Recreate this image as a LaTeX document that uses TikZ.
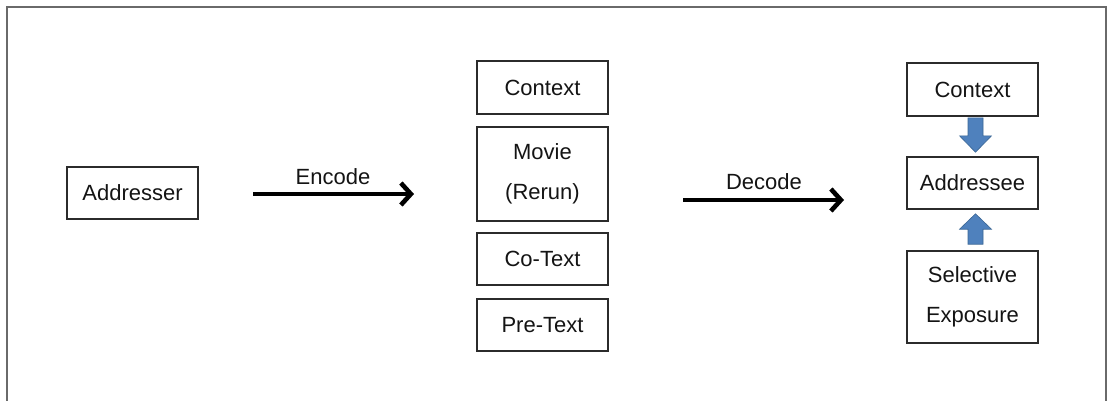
\documentclass[tikz,border=0pt]{standalone}
\usepackage{fontspec}
\setmainfont{Liberation Sans}
\usetikzlibrary{arrows.meta,calc}
\definecolor{boxline}{HTML}{2B2B2B}
\definecolor{frameline}{HTML}{6A6A6A}
\definecolor{bluefill}{HTML}{4F81BD}
\definecolor{blueline}{HTML}{3A6694}
\begin{document}
\begin{tikzpicture}[x=1pt,y=-1pt,
  txt/.style={font=\fontsize{22}{40}\selectfont, text=black!92, inner sep=0pt},
  box/.style={txt, draw=boxline, line width=1.6pt, minimum width=131pt, align=center},
  flow/.style={line width=4.6pt, -{Straight Barb[length=10pt,width=22pt]}, black},
  fat/.style={fill=bluefill, draw=blueline, line width=0.6pt, line join=miter}
]
\useasboundingbox (0,0) rectangle (1112,400);
\clip (0,0) rectangle (1112,400);
\fill[white] (0,0) rectangle (1112,400);
\draw[frameline, line width=1.8pt] (7,7) rectangle (1106,420);

% left
\node[box, minimum height=52pt] (addresser) at (132.5,193) {Addresser};

% middle column
\node[box, minimum height=53pt] (ctx1) at (542.5,87.5) {Context};
\node[box, minimum height=94pt] (movie) at (542.5,174) {Movie\\(Rerun)};
\node[box, minimum height=52pt] (cotext) at (542.5,259) {Co-Text};
\node[box, minimum height=52pt] (pretext) at (542.5,325) {Pre-Text};

% right column
\node[box, minimum height=53pt] (ctx2) at (972.5,89.5) {Context};
\node[box, minimum height=52pt] (addressee) at (972.5,183) {Addressee};
\node[box, minimum height=92pt] (selective) at (972.5,297) {Selective\\Exposure};

% encode / decode arrows
\coordinate (enc1) at (253,194);
\coordinate (enc2) at (414,194);
\coordinate (dec1) at (683,200);
\coordinate (dec2) at (844,200);
\draw[flow] (enc1) -- (enc2);
\draw[flow] (dec1) -- (dec2);
\node[txt] (enclbl) at (333,177) {Encode};
\node[txt] (declbl) at (764,182) {Decode};

% block arrows
\draw[fat] ($(ctx2.south)+(-4.5,1)$) -- ($(ctx2.south)+(10.5,1)$) -- ($(ctx2.south)+(10.5,19)$)
  -- ($(ctx2.south)+(19,19)$) -- ($(addressee.north)+(3,-4)$) -- ($(ctx2.south)+(-13,19)$)
  -- ($(ctx2.south)+(-4.5,19)$) -- cycle;
\draw[fat] ($(selective.north)+(-4.5,-6)$) -- ($(selective.north)+(10.5,-6)$) -- ($(selective.north)+(10.5,-21)$)
  -- ($(selective.north)+(19,-21)$) -- ($(addressee.south)+(3,4)$) -- ($(selective.north)+(-13,-21)$)
  -- ($(selective.north)+(-4.5,-21)$) -- cycle;
\end{tikzpicture}
\end{document}
